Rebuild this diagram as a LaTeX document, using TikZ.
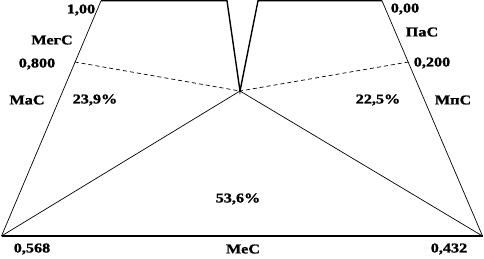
\documentclass[tikz,border=0pt]{standalone}
\usepackage{fontspec}
\setmainfont{Liberation Serif}[FakeStretch=1.2,BoldFeatures={FakeBold=1.2}]
\begin{document}
\begin{tikzpicture}[x=1pt,y=-1pt,
  lbl/.style={inner sep=0pt,font=\fontsize{13.5}{15}\selectfont\bfseries},
  thickline/.style={line width=1.4pt,line join=miter},
  thinline/.style={line width=0.7pt},
  dashline/.style={line width=0.7pt,dash pattern=on 4pt off 3pt}]
\useasboundingbox (0,0) rectangle (484,259);
\fill[white] (0,0) rectangle (484,259);
% corners
\coordinate (B1) at (1.5,236);
\coordinate (B2) at (482.5,236);
\coordinate (T1) at (101,0.8);
\coordinate (T2) at (227,0.8);
\coordinate (C)  at (240,91);
\coordinate (T3) at (258,0.8);
\coordinate (T4) at (382,0.8);
\coordinate (D1) at (74.7,62);
\coordinate (D2) at (408.5,62);
% outline
\draw[thickline] (T1) -- (T2) -- (C) -- (T3) -- (T4);
\draw[thinline] (T1) -- (B1);
\draw[thinline] (T4) -- (B2);
\draw[thickline] (B1) -- (B2);
\draw[thinline] (C) -- (B1);
\draw[thinline] (C) -- (B2);
\draw[dashline] (D1) -- (C);
\draw[dashline] (D2) -- (C);
% labels
\node[lbl] (l100) at (81,10) {1,00};
\node[lbl] (lmeg) at (52,40) {МегС};
\node[lbl] (l800) at (37,64) {0,800};
\node[lbl] (lmac) at (27,100) {МаС};
\node[lbl] (p239) at (95,100) {23,9\%};
\node[lbl] (l000) at (405,9) {0,00};
\node[lbl] (lpac) at (422,32) {ПаС};
\node[lbl] (l200) at (432,63) {0,200};
\node[lbl] (p225) at (378,100) {22,5\%};
\node[lbl] (lmpc) at (453,100) {МпС};
\node[lbl] (p536) at (238,199) {53,6\%};
\node[lbl] (l568) at (32,249) {0,568};
\node[lbl] (lmec) at (243,249) {МеС};
\node[lbl] (l432) at (449,249) {0,432};
\end{tikzpicture}
\end{document}
